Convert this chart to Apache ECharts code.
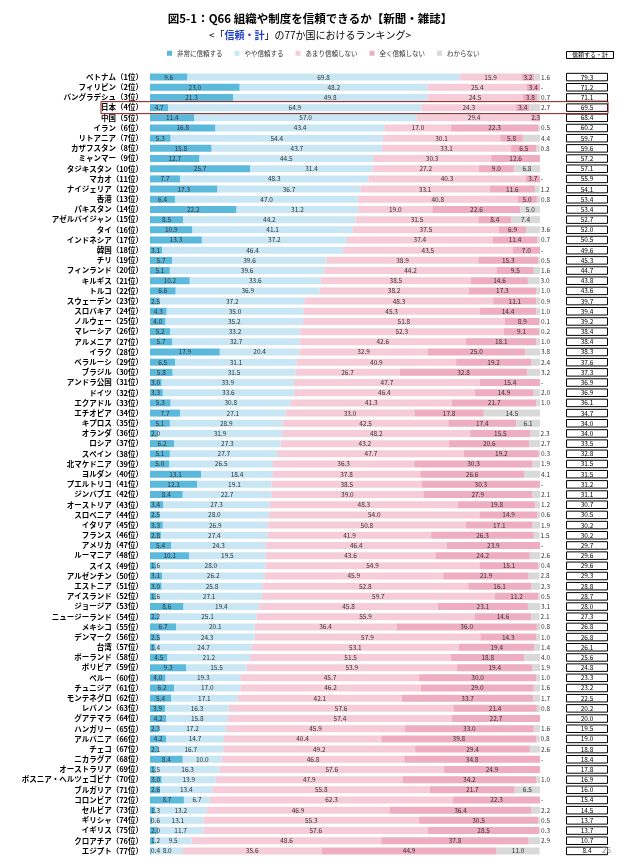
<!DOCTYPE html>
<html><head><meta charset="utf-8">
<script src="https://cdn.jsdelivr.net/npm/echarts@6/dist/echarts.min.js"></script>
<style>html,body{margin:0;padding:0;background:#fff}#c{width:620px;height:862px}</style>
</head><body><div id="c"></div>
<script>
const categories = ['ベトナム（1位）','フィリピン（2位）','バングラデシュ（3位）','日本（4位）','中国（5位）','イラン（6位）','リトアニア（7位）','カザフスタン（8位）','ミャンマー（9位）','タジキスタン（10位）',
'マカオ（11位）','ナイジェリア（12位）','香港（13位）','パキスタン（14位）','アゼルバイジャン（15位）','タイ（16位）','インドネシア（17位）','韓国（18位）','チリ（19位）','フィンランド（20位）',
'キルギス（21位）','トルコ（22位）','スウェーデン（23位）','スロバキア（24位）','ノルウェー（25位）','マレーシア（26位）','アルメニア（27位）','イラク（28位）','ベラルーシ（29位）','ブラジル（30位）',
'アンドラ公国（31位）','ドイツ（32位）','エクアドル（33位）','エチオピア（34位）','キプロス（35位）','オランダ（36位）','ロシア（37位）','スペイン（38位）','北マケドニア（39位）','ヨルダン（40位）',
'プエルトリコ（41位）','ジンバブエ（42位）','オーストリア（43位）','スロベニア（44位）','イタリア（45位）','フランス（46位）','アメリカ（47位）','ルーマニア（48位）','スイス（49位）','アルゼンチン（50位）',
'エストニア（51位）','アイスランド（52位）','ジョージア（53位）','ニュージーランド（54位）','メキシコ（55位）','デンマーク（56位）','台湾（57位）','ポーランド（58位）','ボリビア（59位）','ペルー（60位）',
'チュニジア（61位）','モンテネグロ（62位）','レバノン（63位）','グアテマラ（64位）','ハンガリー（65位）','アルバニア（66位）','チェコ（67位）','ニカラグア（68位）','オーストラリア（69位）','ボスニア・ヘルツェゴビナ（70位）',
'ブルガリア（71位）','コロンビア（72位）','セルビア（73位）','ギリシャ（74位）','イギリス（75位）','クロアチア（76位）','エジプト（77位）'];

const seriesNames = ['非常に信頼する','やや信頼する','あまり信頼しない','全く信頼しない','わからない'];

const veryTrust = [9.6,23.0,21.3,4.7,11.4,16.8,5.3,15.8,12.7,25.7,
7.7,17.3,6.4,22.2,8.5,10.9,13.3,3.1,5.7,5.1,
10.2,6.6,2.5,4.3,4.0,5.2,5.7,17.9,6.5,5.8,
3.0,3.3,5.3,7.7,5.1,2.0,6.2,5.1,5.0,13.1,
12.1,8.4,3.4,2.5,3.3,2.8,5.4,10.1,1.6,3.1,
3.0,1.6,8.6,2.2,6.7,2.5,1.4,4.5,9.3,4.0,
6.2,5.4,3.9,4.2,2.3,4.2,2.1,8.4,1.5,3.0,
2.6,8.7,1.3,0.6,2.0,1.2,0.4];

const somewhatTrust = [69.8,48.2,49.8,64.9,57.0,43.4,54.4,43.7,44.5,31.4,
48.3,36.7,47.0,31.2,44.2,41.1,37.2,46.4,39.6,39.6,
33.6,36.9,37.2,35.0,35.2,33.2,32.7,20.4,31.1,31.5,
33.9,33.6,30.8,27.1,28.9,31.9,27.3,27.7,26.5,18.4,
19.1,22.7,27.3,28.0,26.9,27.4,24.3,19.5,28.0,26.2,
25.8,27.1,19.4,25.1,20.1,24.3,24.7,21.2,15.5,19.3,
17.0,17.1,16.3,15.8,17.2,14.7,16.7,10.0,16.3,13.9,
13.4,6.7,13.2,13.1,11.7,9.5,8.0];

const notMuchTrust = [15.9,25.4,24.5,24.3,29.4,17.0,30.1,33.1,30.3,27.2,
40.3,33.1,40.8,19.0,31.5,37.5,37.4,43.5,38.9,44.2,
38.5,38.2,48.3,45.3,51.8,52.3,42.6,32.9,40.9,26.7,
47.7,46.4,41.3,33.0,42.5,48.2,43.2,47.7,36.3,37.8,
38.5,39.0,48.3,54.0,50.8,41.9,46.4,43.6,54.9,45.9,
52.8,59.7,45.8,55.9,36.4,57.9,53.1,51.5,53.9,45.7,
46.2,42.1,57.6,57.4,45.9,40.4,49.2,46.8,57.6,47.9,
55.8,62.3,46.9,55.3,57.6,48.6,35.6];

const noTrust = [3.2,3.4,3.8,3.4,2.3,22.3,5.8,6.5,12.6,9.0,
3.7,11.6,5.0,22.6,8.4,6.9,11.4,7.0,15.3,9.5,
14.6,17.3,11.1,14.4,8.9,9.1,18.1,25.0,19.2,32.8,
15.4,14.9,21.7,17.8,17.4,15.5,20.6,19.2,30.3,26.6,
30.3,27.9,19.8,14.9,17.1,26.3,23.9,24.2,15.1,21.9,
16.1,11.2,23.1,14.6,36.0,14.3,19.4,18.8,19.4,30.0,
29.0,33.7,21.4,22.7,33.0,39.8,29.4,34.8,24.9,34.2,
21.7,22.3,36.4,30.5,28.5,37.8,44.9];

const dontKnow = [1.6,0,0.7,2.7,0.1,0.5,4.4,0.8,0,6.8,
0,1.2,0.8,5.0,7.4,3.6,0.7,0,0.5,1.6,
3.0,1.0,0.9,1.0,0.1,0.2,1.0,3.8,2.4,3.2,
0,2.0,1.0,14.5,6.1,2.3,2.7,0.3,1.9,4.1,
0,2.1,1.2,0.6,1.9,1.5,0,2.6,0.4,2.8,
2.3,0.5,3.1,2.1,0.8,1.0,1.4,4.0,1.9,1.0,
1.6,1.7,0.8,0,1.6,0.8,2.6,0,0,1.0,
6.5,0,2.2,0.5,0.3,2.9,11.0];

const trustTotal = [79.3,71.2,71.1,69.5,68.4,60.2,59.7,59.6,57.2,57.1,
55.9,54.1,53.4,53.4,52.7,52.0,50.5,49.6,45.3,44.7,
43.8,43.6,39.7,39.4,39.2,38.4,38.4,38.3,37.6,37.3,
36.9,36.9,36.1,34.7,34.0,34.0,33.5,32.8,31.5,31.5,
31.2,31.1,30.7,30.5,30.2,30.2,29.7,29.6,29.6,29.3,
28.8,28.7,28.0,27.3,26.8,26.8,26.1,25.6,24.8,23.3,
23.2,22.5,20.2,20.0,19.5,19.0,18.8,18.4,17.8,16.9,
16.0,15.4,14.5,13.7,13.7,10.7,8.4];

const highlightCategory = '日本（4位）';

const FONT = '"Noto Sans CJK JP", "Noto Sans", sans-serif';
const colors = ['#5BB9DC','#C8E6F3','#F6CCD8','#EEADC1','#D9D9D9'];
const seriesData = [veryTrust, somewhatTrust, notMuchTrust, noTrust, dontKnow];

const fmt = v => v === 0 ? '-' : v.toFixed(1);

const chart = echarts.init(document.getElementById('c'), null, {renderer: 'canvas'});

const barSeries = seriesData.map((arr, si) => ({
  name: seriesNames[si],
  type: 'bar',
  stack: 'all',
  xAxisIndex: 0, yAxisIndex: 0,
  barWidth: 7,
  itemStyle: {color: colors[si]},
  emphasis: {disabled: true},
  data: arr.map(v => {
    let pos = 'inside';
    if (si === 0 && v < 3.5) pos = 'insideLeft';
    if (si === 4 && v < 5) pos = 'right';
    return {value: v, label: {position: pos}};
  }),
  label: {
    show: true,
    fontSize: 6.5,
    fontFamily: FONT,
    color: '#333',
    distance: 1,
    formatter: p => fmt(p.value)
  }
}));

const option = {
  animation: false,
  color: colors,
  title: [
    {text: '図5-1：Q66 組織や制度を信頼できるか【新聞・雑誌】', left: 'center', top: 8,
     textStyle: {fontSize: 11.5, fontWeight: 'bold', fontFamily: FONT, color: '#000'}},
    {text: '<「{b|信頼・計}」の77か国におけるランキング>', left: 'center', top: 25,
     textStyle: {fontSize: 10, fontWeight: 'normal', fontFamily: FONT, color: '#000',
       rich: {b: {fontSize: 10, fontWeight: 'bold', color: '#1F3FC8', fontFamily: FONT}}}},
    {text: '信頼する・計', left: 566, top: 51, padding: [1, 6, 1, 6],
     borderColor: '#000', borderWidth: 1,
     textStyle: {fontSize: 6, fontWeight: 'normal', fontFamily: FONT, color: '#000'}},
    {text: '26', right: 4, bottom: 3, textStyle: {fontSize: 8, fontWeight: 'normal', color: '#888', fontFamily: FONT}}
  ],
  legend: {
    data: seriesNames, left: 162, top: 45,
    itemWidth: 5, itemHeight: 5, itemGap: 12,
    icon: 'rect',
    textStyle: {fontSize: 6.5, fontFamily: FONT, color: '#333'}
  },
  grid: [
    {left: 150, right: 80, top: 72, bottom: 6},
    {left: 566, width: 42, top: 72, bottom: 6}
  ],
  xAxis: [
    {type: 'value', gridIndex: 0, min: 0, max: 100, show: false},
    {type: 'value', gridIndex: 1, min: 0, max: 1, show: false}
  ],
  yAxis: [
    {type: 'category', gridIndex: 0, data: categories, inverse: true,
     axisLine: {show: false}, axisTick: {show: false},
     axisLabel: {fontSize: 7.5, fontFamily: FONT, color: '#000', fontWeight: 'bold', margin: 7, interval: 0}},
    {type: 'category', gridIndex: 1, data: categories, inverse: true, show: false}
  ],
  series: barSeries.concat([{
    name: 'total', type: 'bar', xAxisIndex: 1, yAxisIndex: 1,
    barWidth: 8.5,
    itemStyle: {color: '#fff', borderColor: '#000', borderWidth: 1},
    emphasis: {disabled: true},
    data: trustTotal.map(() => 1),
    label: {show: true, position: 'inside', fontSize: 6.5, fontFamily: FONT, color: '#000',
      formatter: p => trustTotal[p.dataIndex].toFixed(1)}
  }])
};
chart.setOption(option);

// highlight box around Japan row
const hy = chart.convertToPixel({yAxisIndex: 0}, highlightCategory);
chart.setOption({
  graphic: [{
    type: 'rect', shape: {x: 101, y: hy - 6, width: 507, height: 12},
    style: {fill: 'none', stroke: '#8B1A1A', lineWidth: 1}, z: 100
  }]
});
</script></body></html>
